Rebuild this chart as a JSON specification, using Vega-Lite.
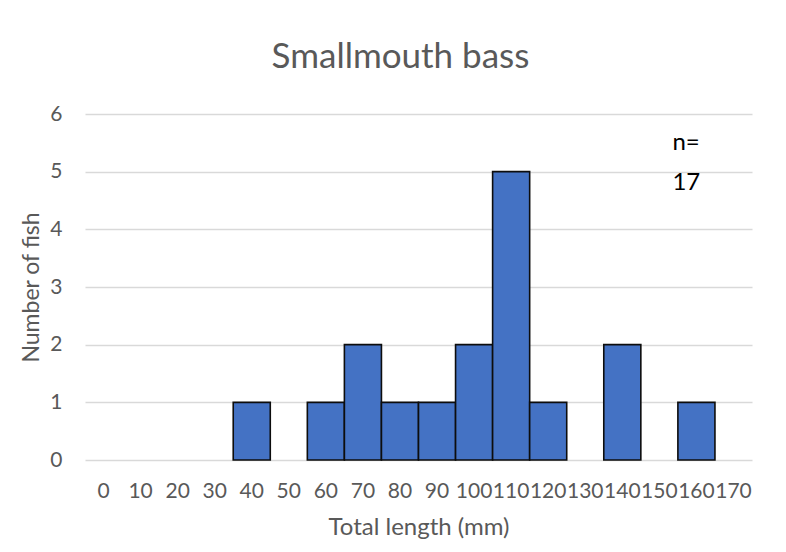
{
  "$schema": "https://vega.github.io/schema/vega-lite/v6.json",
  "width": 667,
  "height": 346,
  "autosize": {"type": "none"},
  "padding": {"left": 85, "top": 114, "right": 34, "bottom": 92},
  "background": "white",
  "config": {"view": {"stroke": null}, "font": "Lato"},
  "title": {
    "text": "Smallmouth bass",
    "font": "Lato",
    "fontSize": 35,
    "fontWeight": "normal",
    "color": "#595959",
    "anchor": "middle",
    "baseline": "alphabetic",
    "dx": -18,
    "offset": 0
  },
  "datasets": {
    "bars": [
      {"length": "40", "count": 1},
      {"length": "60", "count": 1},
      {"length": "70", "count": 2},
      {"length": "80", "count": 1},
      {"length": "90", "count": 1},
      {"length": "100", "count": 2},
      {"length": "110", "count": 5},
      {"length": "120", "count": 1},
      {"length": "140", "count": 2},
      {"length": "160", "count": 1}
    ],
    "note": [
      {"label": "n=", "length": "160", "count": 5.375},
      {"label": "17", "length": "160", "count": 4.68}
    ]
  },
  "layer": [
    {
      "data": {"name": "bars"},
      "mark": {"type": "bar", "color": "#4472C4", "stroke": "#0d0d0d", "strokeWidth": 1.6},
      "encoding": {
        "x": {
          "field": "length",
          "type": "ordinal",
          "scale": {
            "domain": ["0","10","20","30","40","50","60","70","80","90","100","110","120","130","140","150","160","170"],
            "paddingInner": 0,
            "paddingOuter": 0
          },
          "axis": {
            "title": "Total length (mm)",
            "titleFont": "Lato",
            "titleFontSize": 24,
            "titleFontWeight": "normal",
            "titleColor": "#595959",
            "titlePadding": 14,
            "labelFont": "Lato",
            "labelFontSize": 21,
            "labelColor": "#595959",
            "labelAngle": 0,
            "labelPadding": 20,
            "labelOverlap": false,
            "labelFlush": false,
            "ticks": false,
            "domain": false,
            "grid": false
          }
        },
        "y": {
          "field": "count",
          "type": "quantitative",
          "scale": {"domain": [0, 6], "nice": false},
          "axis": {
            "title": "Number of fish",
            "titleFont": "Lato",
            "titleFontSize": 23,
            "titleFontWeight": "normal",
            "titleColor": "#595959",
            "titlePadding": 6,
            "labelFont": "Lato",
            "labelFontSize": 21,
            "labelColor": "#595959",
            "labelPadding": 23,
            "format": "d",
            "values": [0, 1, 2, 3, 4, 5, 6],
            "ticks": false,
            "domain": false,
            "grid": true,
            "gridColor": "#D9D9D9",
            "gridWidth": 1.5
          }
        }
      }
    },
    {
      "data": {"name": "note"},
      "mark": {"type": "text", "font": "Lato", "fontSize": 24, "color": "#000000", "align": "left", "baseline": "alphabetic", "dx": -24},
      "encoding": {
        "x": {"field": "length", "type": "ordinal"},
        "y": {"field": "count", "type": "quantitative"},
        "text": {"field": "label"}
      }
    }
  ]
}
